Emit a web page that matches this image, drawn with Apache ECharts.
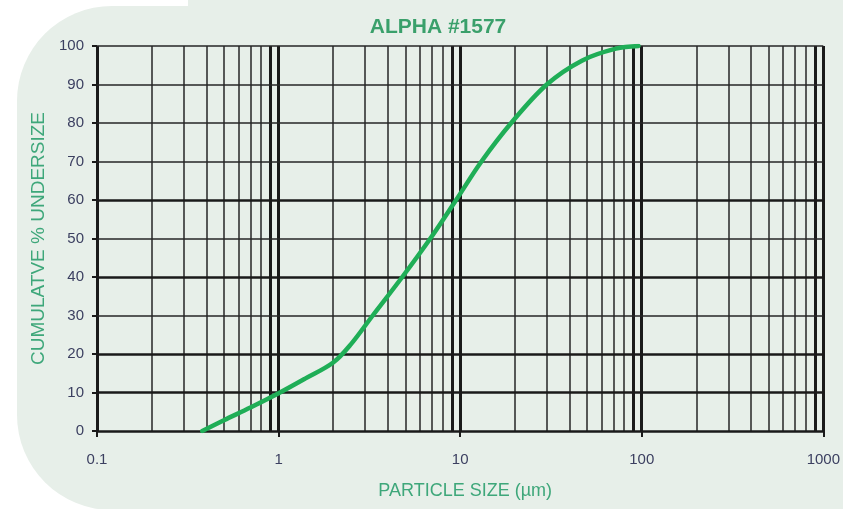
<!DOCTYPE html>
<html><head><meta charset="utf-8">
<script src="https://cdn.jsdelivr.net/npm/echarts@6/dist/echarts.min.js"></script>
<style>html,body{margin:0;padding:0;background:#ffffff;}#c{width:843px;height:509px;}</style>
</head><body><div id="c"></div>
<script>
const titleText = 'ALPHA #1577';
const xName = 'PARTICLE SIZE (µm)';
const yName = 'CUMULATVE % UNDERSIZE';

// particle size (µm) and cumulative % undersize
const particleSize        = [0.38, 0.5, 0.7, 1.0, 1.4, 2.0, 2.5, 3.3, 4.8, 6.85, 9.5, 13.1, 19.1, 30, 46.8, 72, 96];
const cumulativeUndersize = [0,    2.8, 6.1, 9.8, 13.6, 17.8, 22.5, 30, 40, 50,  60,  70,   80,   90, 96.2, 99.3, 100];

const xTickLabels = [0.1, 1, 10, 100, 1000];
const yTickLabels = [0, 10, 20, 30, 40, 50, 60, 70, 80, 90, 100];

// grid lines
const thinVerticalLines  = [0.2,0.3,0.4,0.5,0.6,0.7,0.8, 2,3,4,5,6,7,8, 20,30,40,50,60,70,80, 200,300,400,500,600,700,800];
const thickVerticalLines = [0.1, 0.9, 1, 9, 10, 90, 100, 900, 1000];
const thinHorizontalLines  = [30, 50, 70, 80, 90, 100];
const thickHorizontalLines = [0, 10, 20, 40, 60];

const FONT = '"Liberation Sans", Arial, sans-serif';
const GRIDC = '#262626';

const chart = echarts.init(document.getElementById('c'), null, {renderer: 'canvas'});

const markData = []
  .concat(thinVerticalLines.map(v => ({xAxis: v, lineStyle: {width: 1.5, color: GRIDC, type: 'solid'}})))
  .concat(thickVerticalLines.map(v => ({xAxis: v, lineStyle: {width: 3, color: '#1a1a1a', type: 'solid'}})))
  .concat(thinHorizontalLines.map(v => ({yAxis: v, lineStyle: {width: 1.5, color: GRIDC, type: 'solid'}})))
  .concat(thickHorizontalLines.map(v => ({yAxis: v, lineStyle: {width: 2.6, color: '#1a1a1a', type: 'solid'}})));

chart.setOption({
  animation: false,
  backgroundColor: '#ffffff',
  graphic: [
    {type: 'rect', z: -10, silent: true, shape: {x: 17, y: 6, width: 900, height: 504, r: [95, 0, 0, 95]}, style: {fill: '#e7efe9'}},
    {type: 'rect', z: -10, silent: true, shape: {x: 188, y: 0, width: 700, height: 30}, style: {fill: '#e7efe9'}}
  ],
  title: {
    text: titleText,
    left: 433, top: 12, textAlign: 'center',
    textStyle: {fontFamily: FONT, fontSize: 21, fontWeight: 'bold', color: '#3aa06b'}
  },
  grid: {left: 97, right: 18, top: 46, bottom: 78, containLabel: false},
  xAxis: {
    type: 'log', logBase: 10, min: 0.1, max: 1000, splitNumber: 4,
    name: xName, nameLocation: 'middle', nameGap: 51,
    nameTextStyle: {fontFamily: FONT, fontSize: 18, color: '#3ea77a', padding: [0, 0, 0, 10]},
    axisLine: {show: false},
    axisTick: {show: true, length: 6, lineStyle: {color: '#1a1a1a', width: 2}},
    axisLabel: {
      margin: 21, fontFamily: FONT, fontSize: 15, color: '#3b3f60',
      formatter: v => String(parseFloat(Number(v).toPrecision(6)))
    },
    splitLine: {show: false}, minorTick: {show: false}, minorSplitLine: {show: false}
  },
  yAxis: {
    type: 'value', min: 0, max: 100, interval: 10,
    name: yName, nameLocation: 'middle', nameGap: 45,
    nameTextStyle: {fontFamily: FONT, fontSize: 19, color: '#3ea77a'},
    axisLine: {show: false},
    axisTick: {show: true, length: 5, lineStyle: {color: '#1a1a1a', width: 2}},
    axisLabel: {margin: 13, fontFamily: FONT, fontSize: 15, color: '#3b3f60',
      formatter: v => yTickLabels.includes(v) ? String(v) : ''},
    splitLine: {show: false}
  },
  series: [
    {
      type: 'line', z: 1, silent: true,
      data: [[0.1, 0], [1000, 100]],
      showSymbol: false, symbol: 'none',
      lineStyle: {width: 0, opacity: 0},
      markLine: {silent: true, symbol: ['none', 'none'], label: {show: false}, animation: false,
        emphasis: {disabled: true}, data: markData}
    },
    {
      type: 'line', z: 5, silent: true,
      data: particleSize.map((x, i) => [x, cumulativeUndersize[i]]),
      smooth: 0.35, showSymbol: false, symbol: 'none',
      lineStyle: {color: '#1fae57', width: 4.5, cap: 'round'}
    }
  ]
});
</script></body></html>
